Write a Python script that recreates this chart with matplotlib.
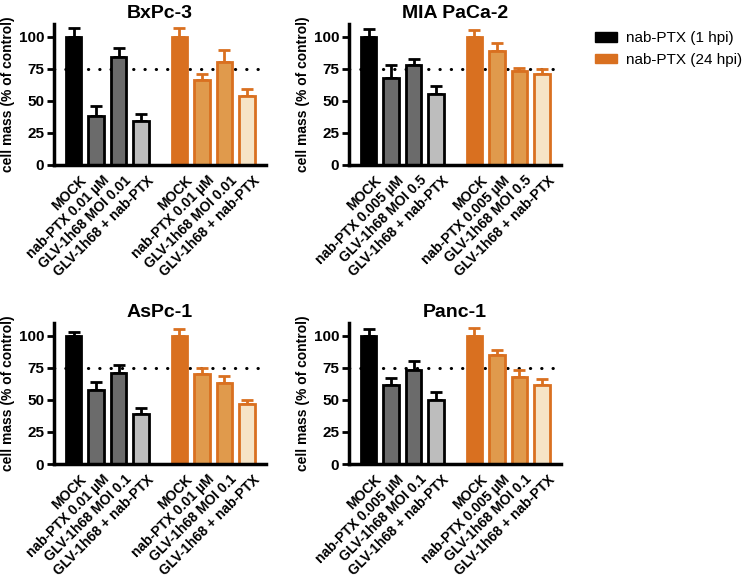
import matplotlib
matplotlib.use("Agg")
import matplotlib.pyplot as plt
from matplotlib.patches import Patch

plt.rcParams['font.family'] = ['Liberation Sans', 'DejaVu Sans']

titles = ["BxPc-3", "MIA PaCa-2", "AsPc-1", "Panc-1"]
labels = [
    ["MOCK", "nab-PTX 0.01 µM", "GLV-1h68 MOI 0.01", "GLV-1h68 + nab-PTX"],
    ["MOCK", "nab-PTX 0.005 µM", "GLV-1h68 MOI 0.5", "GLV-1h68 + nab-PTX"],
    ["MOCK", "nab-PTX 0.01 µM", "GLV-1h68 MOI 0.1", "GLV-1h68 + nab-PTX"],
    ["MOCK", "nab-PTX 0.005 µM", "GLV-1h68 MOI 0.1", "GLV-1h68 + nab-PTX"],
]
# means and SD (upper error) for 1 hpi (black group) and 24 hpi (orange group)
hpi1_mean = [[100, 38, 84, 34], [100, 68, 78, 55], [100, 58, 71, 39], [100, 62, 73, 50]]
hpi1_err = [[7, 8, 7, 6], [6, 10, 5, 7], [3, 6, 6, 5], [5, 5, 7, 6]]
hpi24_mean = [[100, 66, 80, 54], [100, 89, 73, 71], [100, 70, 63, 47], [100, 85, 68, 62]]
hpi24_err = [[7, 5, 10, 5], [5, 6, 3, 4], [5, 5, 6, 3], [6, 4, 5, 4]]
legend_labels = ["nab-PTX (1 hpi)", "nab-PTX (24 hpi)"]

black_fill = ["#000000", "#6b6b6b", "#6b6b6b", "#bdbdbd"]
orange_edge = "#d97020"
orange_fill = ["#d97020", "#e09a4c", "#e09a4c", "#f6e4c6"]

W, H = 746, 583
fig = plt.figure(figsize=(W / 100, H / 100), dpi=100)

panel_px = [(54, 24, 212, 141), (349, 24, 212, 141), (54, 323, 212, 141), (349, 323, 212, 141)]

pos1 = [0, 1, 2, 3]
pos24 = [4.7, 5.7, 6.7, 7.7]
bw = 0.68

for i in range(4):
    x0, y0, w, h = panel_px[i]
    ax = fig.add_axes([x0 / W, 1 - (y0 + h) / H, w / W, h / H])
    ax.axhline(75, color="black", lw=2.2, ls=(0, (0.1, 3.6)), dash_capstyle="round", zorder=0)
    for j in range(4):
        ax.bar(pos1[j], hpi1_mean[i][j], width=bw, color=black_fill[j], edgecolor="black",
               linewidth=2, zorder=2)
        ax.errorbar(pos1[j], hpi1_mean[i][j], yerr=[[0], [hpi1_err[i][j]]], fmt="none",
                    ecolor="black", elinewidth=2, capsize=4.5, capthick=2, zorder=1)
        ax.bar(pos24[j], hpi24_mean[i][j], width=bw, color=orange_fill[j], edgecolor=orange_edge,
               linewidth=2, zorder=2)
        ax.errorbar(pos24[j], hpi24_mean[i][j], yerr=[[0], [hpi24_err[i][j]]], fmt="none",
                    ecolor=orange_edge, elinewidth=2, capsize=4.5, capthick=2, zorder=1)
    ax.set_xlim(-0.87, 8.55)
    ax.set_ylim(0, 110)
    ax.set_yticks([0, 25, 50, 75, 100])
    ax.set_xticks([p + 0.25 for p in pos1 + pos24])
    ax.set_xticklabels(labels[i] + labels[i], rotation=45, ha="right", va="top",
                       rotation_mode="anchor", fontsize=10, fontweight="bold")
    for lab in ax.get_yticklabels():
        lab.set_fontweight("bold")
        lab.set_fontsize(11)
    ax.tick_params(axis="x", length=0, pad=6)
    ax.tick_params(axis="y", length=5, width=2, pad=2)
    for s in ["top", "right"]:
        ax.spines[s].set_visible(False)
    for s in ["left", "bottom"]:
        ax.spines[s].set_linewidth(2.5)
    ax.set_ylabel("cell mass (% of control)", fontsize=10, fontweight="bold", labelpad=3)
    ax.set_title(titles[i], fontsize=14, fontweight="bold", pad=4)

handles = [Patch(facecolor="black", edgecolor="black"),
           Patch(facecolor=orange_edge, edgecolor=orange_edge)]
fig.legend(handles, legend_labels, loc="upper left", bbox_to_anchor=(589 / W, 1 - 25 / H),
           frameon=False, fontsize=11, handlelength=1.45, handleheight=0.6, labelspacing=0.5,
           handletextpad=0.55, borderaxespad=0)

fig.savefig("out.png", dpi=100)
